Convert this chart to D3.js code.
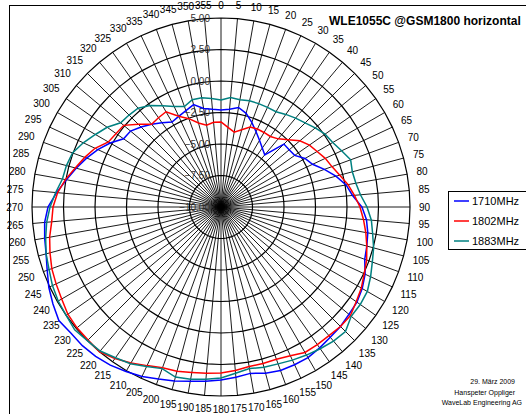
<!DOCTYPE html>
<html>
<head>
<meta charset="utf-8">
<script src="https://cdn.jsdelivr.net/npm/d3@7"></script>
<style>
  body { margin: 0; background: #fff; }
  svg { font-family: Arial, "Liberation Sans", sans-serif; }
</style>
</head>
<body>
<div id="chart"></div>
<script>
// angles of the spokes, degrees clockwise from top
const angles = d3.range(0, 360, 5);
const ringTicks = [-10, -7.5, -5, -2.5, 0, 2.5, 5];

const seriesNames = ["1710MHz", "1802MHz", "1883MHz"];
const seriesColors = ["#0000ff", "#ff0000", "#008080"];

// gain in dB, one value per spoke (0..355)
const s1710 = [
  -2.30, -2.22, -1.98, -2.30, -2.86, -3.41, -3.89, -4.29, -4.60, -2.94, -2.94, -2.86,
  -2.30, -1.98, -1.27, -0.56, 0.08, 0.48, 1.19, 1.59, 1.83, 1.98, 2.14, 2.62,
  2.94, 3.17, 3.25, 3.41, 3.49, 3.65, 3.81, 3.81, 3.81, 3.65, 3.41, 3.57,
  3.73, 3.89, 4.05, 4.29, 4.52, 4.84, 5.08, 5.32, 5.48, 5.56, 5.56, 5.71,
  5.40, 5.08, 4.68, 4.37, 4.21, 4.05, 3.73, 3.10, 2.46, 1.90, 1.35, 0.79,
  0.16, -0.56, -0.63, -1.03, -1.43, -1.83, -2.22, -2.06, -1.86, -1.59, -2.06, -2.22
];
const s1802 = [
  -3.25, -3.65, -3.97, -3.65, -3.25, -3.17, -3.17, -3.17, -2.94, -2.46, -1.83, -1.43,
  -1.19, -0.87, -0.63, -0.24, 0.24, 0.63, 1.03, 1.35, 1.67, 1.98, 2.30, 2.54,
  2.86, 3.10, 3.41, 3.41, 3.33, 3.33, 3.33, 3.02, 2.86, 2.86, 2.86, 3.02,
  3.17, 3.25, 3.33, 3.49, 3.57, 3.89, 4.29, 4.68, 5.00, 4.92, 4.92, 4.84,
  4.60, 4.44, 4.29, 4.05, 3.81, 3.49, 3.33, 3.02, 2.54, 1.98, 1.51, 1.03,
  0.32, 0.16, 0.08, -0.71, -1.43, -1.35, -1.27, -2.06, -2.54, -3.10, -3.41, -3.25
];
const s1883 = [
  -1.51, -1.27, -1.35, -1.27, -1.27, -1.27, -1.27, -1.03, -0.79, -0.56, -0.24, 0.08,
  0.24, 0.56, 0.95, 0.79, 0.87, 1.11, 1.59, 1.98, 2.22, 2.54, 2.78, 3.10,
  3.41, 3.49, 3.49, 3.97, 3.89, 3.73, 3.57, 3.41, 3.25, 3.17, 3.02, 3.25,
  3.57, 3.73, 3.89, 3.97, 3.65, 3.97, 4.37, 4.60, 4.92, 5.00, 5.16, 5.00,
  4.92, 4.76, 4.52, 4.37, 4.13, 3.89, 3.57, 3.17, 2.78, 2.70, 2.54, 2.06,
  1.51, 1.03, 0.40, 0.32, 0.24, -0.16, -0.71, -1.19, -1.51, -1.19, -1.19, -1.35
];
const seriesValues = [s1710, s1802, s1883];

const titleText = "WLE1055C @GSM1800 horizontal";
const footerLines = ["29. März 2009", "Hanspeter Oppliger", "WaveLab Engineering AG"];

const dimensions = { width: 526, height: 414, cx: 221, cy: 207, radius: 189 };

const svg = d3.select("#chart")
  .append("svg")
    .attr("width", dimensions.width)
    .attr("height", dimensions.height);

// outer frame (runs off the right and bottom edge like the original)
svg.append("rect")
  .attr("x", 9.5).attr("y", 5.5)
  .attr("width", 540).attr("height", 440)
  .attr("fill", "#fff")
  .attr("stroke", "#000")
  .attr("stroke-width", 1);

const rScale = d3.scaleLinear().domain([-10, 5]).range([0, dimensions.radius]);
const aScale = d3.scaleLinear().domain([0, 360]).range([0, 2 * Math.PI]);

const bounds = svg.append("g")
  .attr("transform", `translate(${dimensions.cx}, ${dimensions.cy})`);

// spokes
bounds.append("g")
  .selectAll("line")
  .data(angles)
  .join("line")
    .attr("x1", 0).attr("y1", 0)
    .attr("x2", d => rScale(5) * Math.sin(aScale(d)))
    .attr("y2", d => -rScale(5) * Math.cos(aScale(d)))
    .attr("stroke", "#000")
    .attr("stroke-width", 0.9);

// rings (polygons through the spokes)
const ringGenerator = d3.lineRadial()
  .angle(d => aScale(d.a))
  .radius(d => rScale(d.v))
  .curve(d3.curveLinearClosed);

bounds.append("g")
  .selectAll("path")
  .data(ringTicks.filter(t => t > -10))
  .join("path")
    .attr("d", t => ringGenerator(angles.map(a => ({ a: a, v: t }))))
    .attr("fill", "none")
    .attr("stroke", "#000")
    .attr("stroke-width", 1.2);

// ring labels
bounds.append("g")
  .selectAll("text")
  .data(ringTicks)
  .join("text")
    .attr("x", -11)
    .attr("y", t => -rScale(t))
    .attr("dy", "0.35em")
    .attr("text-anchor", "end")
    .attr("font-size", 10)
    .attr("fill", "#333")
    .text(t => d3.format(".2f")(t));

// spoke labels
const spokeLabels = bounds.append("g")
  .selectAll("text")
  .data(angles)
  .join("text")
    .attr("font-size", 10)
    .attr("fill", "#000")
    .attr("text-anchor", "middle")
    .attr("dy", "0.35em")
    .text(d => d);

spokeLabels.each(function(d) {
  const w = this.getComputedTextLength();
  const s = Math.sin(aScale(d)), c = Math.cos(aScale(d));
  const r = 198 + 0.5 * (Math.abs(s) * w + Math.abs(c) * 8);
  d3.select(this).attr("x", r * s).attr("y", -r * c);
});

// series lines
const lineGenerator = d3.lineRadial()
  .angle((d, i) => aScale(angles[i]))
  .radius(d => rScale(d))
  .curve(d3.curveLinearClosed);

bounds.append("g")
  .selectAll("path")
  .data(seriesValues)
  .join("path")
    .attr("d", d => lineGenerator(d))
    .attr("fill", "none")
    .attr("stroke", (d, i) => seriesColors[i])
    .attr("stroke-width", 1.5);

// title
svg.append("text")
  .attr("x", 329).attr("y", 25)
  .attr("font-size", 12)
  .attr("font-weight", "bold")
  .text(titleText);

// legend
const legend = svg.append("g").attr("transform", "translate(448, 191)");
legend.append("rect")
  .attr("x", 0.5).attr("y", 0.5)
  .attr("width", 100).attr("height", 58)
  .attr("fill", "#fff")
  .attr("stroke", "#000");

const legendItems = legend.selectAll("g.item")
  .data(seriesNames)
  .join("g")
    .attr("class", "item")
    .attr("transform", (d, i) => `translate(0, ${10 + i * 20})`);

legendItems.append("line")
  .attr("x1", 6).attr("x2", 21)
  .attr("stroke", (d, i) => seriesColors[i])
  .attr("stroke-width", 1.5);

legendItems.append("text")
  .attr("x", 24)
  .attr("dy", "0.35em")
  .attr("font-size", 11)
  .text(d => d);

// footer
svg.append("g")
  .selectAll("text")
  .data(footerLines)
  .join("text")
    .attr("x", (d, i) => i === 2 ? 522 : 515)
    .attr("y", (d, i) => 384 + i * 10.5)
    .attr("text-anchor", "end")
    .attr("font-size", 7)
    .text(d => d);
</script>
</body>
</html>
